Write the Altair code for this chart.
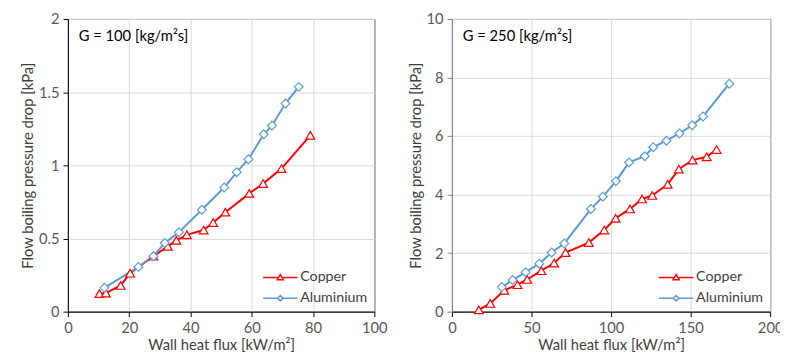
import altair as alt
import pandas as pd

FONT = "Lato"

# G = 100 panel
cu100_q = [10.3, 12.4, 17.2, 20.3, 27.9, 32.6, 35.4, 38.8, 44.3, 47.4, 51.4, 59.2, 63.7, 69.7, 79.1]
cu100_dp = [0.123, 0.127, 0.179, 0.263, 0.379, 0.446, 0.487, 0.525, 0.558, 0.609, 0.680, 0.808, 0.875, 0.978, 1.205]
al100_q = [11.9, 23.0, 27.9, 31.6, 36.2, 43.7, 51.0, 55.1, 58.9, 63.9, 66.6, 71.0, 75.3]
al100_dp = [0.163, 0.306, 0.379, 0.469, 0.542, 0.696, 0.848, 0.953, 1.042, 1.212, 1.272, 1.422, 1.536]

# G = 250 panel
cu250_q = [16.9, 24.1, 32.9, 41.2, 47.3, 56.2, 64.2, 71.4, 86.0, 95.7, 102.9, 111.9, 119.5, 125.9, 135.6, 142.6, 151.2, 160.1, 166.3]
cu250_dp = [0.06, 0.28, 0.73, 0.92, 1.10, 1.40, 1.66, 2.02, 2.36, 2.79, 3.19, 3.51, 3.85, 3.97, 4.35, 4.87, 5.18, 5.29, 5.54]
al250_q = [31.3, 38.1, 46.3, 54.9, 62.6, 70.6, 87.4, 94.9, 103.1, 111.3, 121.2, 126.5, 134.8, 143.0, 151.0, 157.8, 174.3]
al250_dp = [0.84, 1.08, 1.35, 1.64, 2.02, 2.33, 3.51, 3.93, 4.46, 5.10, 5.31, 5.62, 5.84, 6.09, 6.37, 6.67, 7.79]

series_names = ["Copper", "Aluminium"]
series_colors = ["#FF0000", "#5B9BD5"]
marker_shapes = ["triangle-up", "diamond"]
legend_paths = [
    "M-3.5,0H-0.55M0.55,0H3.5M0,-0.6L0.62,0.45L-0.62,0.45Z",
    "M-3.5,0H-0.55M0.55,0H3.5M0,-0.55L0.55,0L0,0.55L-0.55,0Z",
]


def make_df(cq, cdp, aq, adp):
    rows = []
    for q, d in zip(cq, cdp):
        rows.append({"q": q, "dp": d, "series": "Copper", "order": len(rows)})
    for q, d in zip(aq, adp):
        rows.append({"q": q, "dp": d, "series": "Aluminium", "order": len(rows)})
    return pd.DataFrame(rows)


def panel(df, xmax, xstep, ymax, ystep, label, w, h, yaxis_color):
    xvals = list(range(0, xmax + 1, xstep))
    yvals = [round(i * ystep, 3) for i in range(int(round(ymax / ystep)) + 1)]
    xenc = alt.X("q:Q", scale=alt.Scale(domain=[0, xmax], nice=False),
                 axis=alt.Axis(values=xvals, title="Wall heat flux [kW/m²]", format="~r",
                               labelFlush=False, domainColor="black", tickColor="black"))
    yenc = alt.Y("dp:Q", scale=alt.Scale(domain=[0, ymax], nice=False),
                 axis=alt.Axis(values=yvals, title="Flow boiling pressure drop [kPa]", format="~r",
                               domainColor=yaxis_color, tickColor=yaxis_color))
    cscale = alt.Scale(domain=series_names, range=series_colors)
    lines = alt.Chart(df).mark_line(strokeWidth=2).encode(
        x=xenc, y=yenc, detail="series:N", order="order:Q",
        color=alt.Color("series:N", scale=cscale, legend=None))
    pts = alt.Chart(df).mark_point(filled=False, fill="white", fillOpacity=1, opacity=1,
                                   strokeWidth=1.2, size=80).encode(
        x=xenc, y=yenc,
        color=alt.Color("series:N", scale=cscale, legend=None),
        shape=alt.Shape("series:N", scale=alt.Scale(domain=series_names, range=marker_shapes), legend=None))
    legend_def = alt.Legend(title=None, orient="bottom-right", offset=7, padding=0,
                            symbolSize=100, labelOffset=13, rowPadding=6,
                            labelFont=FONT, labelFontSize=14.5, labelColor="#404040")
    leg = alt.Chart(df).transform_filter("datum.q < -1000").mark_point(
        filled=False, fill="white", fillOpacity=1, opacity=1, strokeWidth=1.5).encode(
        x=xenc, y=yenc,
        color=alt.Color("series:N", scale=cscale, legend=legend_def),
        shape=alt.Shape("series:N", scale=alt.Scale(domain=series_names, range=legend_paths),
                        legend=legend_def))
    note = alt.Chart(pd.DataFrame({"t": [label]})).mark_text(
        align="left", baseline="middle", font=FONT, fontSize=15, color="black").encode(
        text="t:N", x=alt.value(11), y=alt.value(17))
    return alt.layer(lines, pts, leg, note).resolve_scale(
        color="independent", shape="independent").properties(width=w, height=h)


left = panel(make_df(cu100_q, cu100_dp, al100_q, al100_dp), 100, 20, 2, 0.5,
             "G = 100 [kg/m²s]", 312, 298, "black")
right = panel(make_df(cu250_q, cu250_dp, al250_q, al250_dp), 200, 50, 10, 2,
              "G = 250 [kg/m²s]", 324, 298, "#808080")

chart = alt.hconcat(left, right, spacing=20).properties(
    padding={"left": 12, "top": 0, "right": -4, "bottom": 0}
).configure_view(
    stroke="black", strokeWidth=1
).configure_axis(
    labelFont=FONT, labelFontSize=15, labelColor="#595959",
    titleFont=FONT, titleFontSize=15, titleColor="#404040", titleFontWeight="normal",
    gridColor="#d9d9d9", tickSize=5, labelPadding=4, titlePadding=3
)

chart.save("out.html", embed_options={"renderer": "svg", "actions": False})
